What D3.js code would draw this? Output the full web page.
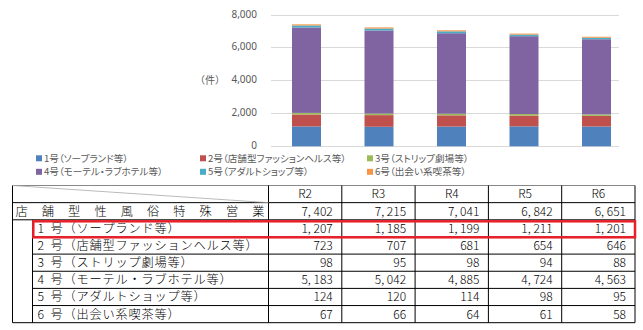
<!DOCTYPE html>
<html><head><meta charset="utf-8">
<script src="https://cdn.jsdelivr.net/npm/d3@7"></script>
<style>
html,body{margin:0;padding:0;background:#fff;}
svg{display:block;}
.jp{font-family:"Noto Sans CJK JP","Noto Sans",sans-serif;}
.tbl{font-family:"Noto Sans CJK JP",sans-serif;font-weight:300;}
</style>
</head><body>
<svg id="c" width="643" height="330"></svg>
<script>
const years = ["R2","R3","R4","R5","R6"];
const totals = [7402,7215,7041,6842,6651];
const s1 = [1207,1185,1199,1211,1201];
const s2 = [723,707,681,654,646];
const s3 = [98,95,98,94,88];
const s4 = [5183,5042,4885,4724,4563];
const s5 = [124,120,114,98,95];
const s6 = [67,66,64,61,58];
const seriesNames = ["1号（ソープランド等）","2号（店舗型ファッションヘルス等）","3号（ストリップ劇場等）","4号（モーテル・ラブホテル等）","5号（アダルトショップ等）","6号（出会い系喫茶等）"];
const totalLabel = "店舗型性風俗特殊営業";
const yTicks = [0,2000,4000,6000,8000];
const colors = ["#4f81bd","#c0504d","#9bbb59","#8064a2","#4bacc6","#f79646"];

const svg = d3.select("#c");
const seriesVals = [s1,s2,s3,s4,s5,s6];

// ---- chart ----
const y = d3.scaleLinear().domain([0,8000]).range([146.3,14.5]);
const x = d3.scaleBand().domain(years).range([270.25,632.75]).paddingInner(0.6).paddingOuter(0.3);
const gridX0 = 271, gridX1 = 619;

const g = svg.append("g");
g.selectAll("line.grid").data(yTicks).join("line")
  .attr("x1",gridX0).attr("x2",gridX1)
  .attr("y1",d=>Math.round(y(d))+0.5).attr("y2",d=>Math.round(y(d))+0.5)
  .attr("stroke","#d9d9d9").attr("stroke-width",1);

const yAxis = d3.axisLeft(y).tickValues(yTicks).tickFormat(d3.format(",")).tickSize(0).tickPadding(0);
const ya = g.append("g").attr("transform","translate(257,0)").call(yAxis);
ya.select(".domain").remove();
ya.selectAll("text").attr("fill","#595959").attr("dy","0.25em").style("font-family","'Noto Sans',sans-serif").style("font-size","10px");

g.append("text").attr("class","jp").attr("x",225).attr("y",y(4000)+4)
  .attr("text-anchor","end").attr("fill","#595959").style("font-size","10px").text("（件）");

const stackData = years.map((yr,i)=>{const o={year:yr}; seriesVals.forEach((s,k)=>o["k"+k]=s[i]); return o;});
const keys = seriesVals.map((s,k)=>"k"+k);
const stacked = d3.stack().keys(keys)(stackData);
g.selectAll("g.layer").data(stacked).join("g").attr("fill",(d,i)=>colors[i])
  .selectAll("rect").data(d=>d).join("rect")
  .attr("x",d=>x(d.data.year)).attr("width",x.bandwidth())
  .attr("y",d=>y(d[1])).attr("height",d=>y(d[0])-y(d[1]));

// legend
const legPos = [[36,158.3],[200,158.3],[367,158.3],[36,171.8],[200,171.8],[367,171.8]];
const leg = g.selectAll("g.leg").data(seriesNames).join("g")
  .attr("transform",(d,i)=>`translate(${legPos[i][0]},${legPos[i][1]})`);
leg.append("rect").attr("x",0).attr("y",-3).attr("width",6).attr("height",6).attr("fill",(d,i)=>colors[i]);
leg.append("text").attr("class","jp").attr("x",8).attr("y",3.5).attr("fill","#595959")
  .style("font-size","9.6px").style("font-feature-settings","'palt'").text(d=>d);

// ---- table ----
const tTop = 185.5, rowH = 17.15;
const tLeft = 12.5, subLeft = 32.5, labelRight = 268.5, colW = 73.3;
const tRight = labelRight + colW*years.length;
const rowY = k => tTop + rowH*k;
const t = svg.append("g").attr("stroke","#000").attr("stroke-width",1);
t.append("line").attr("x1",tLeft).attr("x2",tRight).attr("y1",rowY(0)).attr("y2",rowY(0)).attr("stroke","#888");
t.append("line").attr("x1",tLeft).attr("x2",tRight).attr("y1",rowY(1)).attr("y2",rowY(1));
t.append("line").attr("x1",tLeft).attr("x2",tRight).attr("y1",rowY(2)).attr("y2",rowY(2));
for(let k=3;k<=7;k++) t.append("line").attr("x1",subLeft).attr("x2",tRight).attr("y1",rowY(k)).attr("y2",rowY(k));
t.append("line").attr("x1",tLeft).attr("x2",tRight).attr("y1",rowY(8)).attr("y2",rowY(8));
t.append("line").attr("x1",tLeft).attr("x2",tLeft).attr("y1",rowY(0)).attr("y2",rowY(8));
t.append("line").attr("x1",subLeft).attr("x2",subLeft).attr("y1",rowY(2)).attr("y2",rowY(8));
for(let c=0;c<=years.length;c++){
  const xx = labelRight + colW*c;
  t.append("line").attr("x1",xx).attr("x2",xx).attr("y1",rowY(0)).attr("y2",rowY(8));
}
t.append("line").attr("x1",tLeft).attr("y1",rowY(0)).attr("x2",labelRight).attr("y2",rowY(1)).attr("stroke","#aaa").attr("stroke-width",0.8);

const fmt = v => d3.format(",")(v).replace(",", ", ");
const charXs = (x0, step, str) => Array.from(str).map((c,i)=> (x0 + i*step).toFixed(1)).join(" ");
const tt = svg.append("g").attr("class","tbl").attr("fill","#000").style("font-size","12px");
tt.selectAll("text.h").data(years).join("text")
  .attr("x",(d,i)=>labelRight+colW*i+colW/2).attr("y",rowY(1)-4.2).attr("text-anchor","middle").text(d=>d);
tt.append("text").attr("x",charXs(15.5,26.3,totalLabel)).attr("y",rowY(2)-4.2)
  .style("font-size","12.2px").text(totalLabel);
tt.selectAll("text.tot").data(totals).join("text")
  .attr("x",(d,i)=>labelRight+colW*(i+1)-9).attr("y",rowY(2)-4.2).attr("text-anchor","end").text(d=>fmt(d));
seriesVals.forEach((s,k)=>{
  const name = seriesNames[k];
  tt.append("text").attr("x",charXs(37.5,13,name)).attr("y",rowY(k+3)-4.2).style("font-size","12.2px").text(name);
  tt.selectAll(null).data(s).join("text")
    .attr("x",(d,i)=>labelRight+colW*(i+1)-9).attr("y",rowY(k+3)-4.2).attr("text-anchor","end").text(d=>fmt(d));
});
svg.append("rect").attr("x",33.3).attr("y",221.3).attr("width",635-33.3).attr("height",16)
  .attr("fill","none").attr("stroke","#e8202a").attr("stroke-width",2.5);
</script>
</body></html>
